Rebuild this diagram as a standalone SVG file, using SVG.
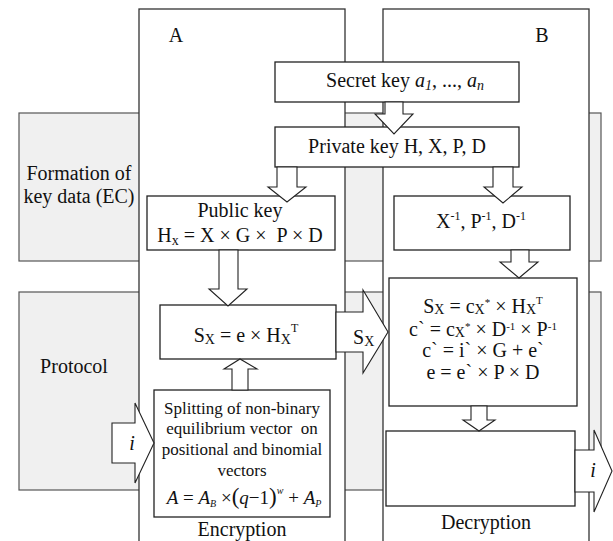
<svg xmlns="http://www.w3.org/2000/svg" width="613" height="541" viewBox="0 0 613 541">
  <style>
    text { font-family: "Liberation Serif", "Times New Roman", serif; font-size: 20px; fill: #111; white-space: pre; }
    .band { fill: #f0f0f0; stroke: #555; stroke-width: 1.2; }
    .col { fill: #fff; stroke: #333; stroke-width: 1.3; }
    .box { fill: #fff; stroke: #222; stroke-width: 1.3; }
    .arrow { fill: #fff; stroke: #222; stroke-width: 1.1; stroke-linejoin: miter; }
    .mid { text-anchor: middle; }
    .sub { font-size: 14px; }
    .sup { font-size: 12px; }
    .sup2 { font-size: 11px; }
    .small { font-size: 17px; }
    .it { font-style: italic; }
  </style>

  <!-- horizontal stages -->
  <g id="stage-keys">
    <rect class="band" x="19" y="113" width="582" height="148"/>
    <text class="mid" x="79" y="180">Formation of</text>
    <text class="mid" x="79" y="203">key data (EC)</text>
  </g>
  <g id="stage-protocol">
    <rect class="band" x="19" y="292" width="582" height="198"/>
    <text class="mid" x="74" y="373">Protocol</text>
  </g>

  <!-- participants -->
  <g id="lane-a">
    <rect class="col" x="139" y="9" width="206" height="545"/>
    <text class="mid" x="176" y="42">A</text>
    <text class="mid" x="242" y="536">Encryption</text>
  </g>
  <g id="lane-b">
    <rect class="col" x="383" y="9" width="206" height="545"/>
    <text class="mid" x="542" y="42">B</text>
    <text class="mid" x="486" y="529">Decryption</text>
  </g>

  <!-- steps -->
  <g id="secret-key">
    <rect class="box" x="275" y="62" width="244" height="40"/>
    <text class="mid" x="405" y="87">Secret key <tspan class="it">a</tspan><tspan class="sub it" dy="3">1</tspan><tspan dy="-3">, ..., </tspan><tspan class="it">a</tspan><tspan class="sub it" dy="3">n</tspan></text>
  </g>
  <g id="private-key">
    <rect class="box" x="275" y="127" width="244" height="40"/>
    <text class="mid" x="397" y="153">Private key H, X, P, D</text>
  </g>
  <g id="public-key">
    <rect class="box" x="147" y="196" width="188" height="54"/>
    <text class="mid" x="240" y="217">Public key</text>
    <text class="mid" x="240" y="242">H<tspan class="sub" dy="3">x</tspan><tspan dy="-3"> = X × G ×  P × D</tspan></text>
  </g>
  <g id="inverses">
    <rect class="box" x="394" y="196" width="176" height="54"/>
    <text class="mid" x="481" y="228">X<tspan class="sup" dy="-8">-1</tspan><tspan dy="8">, P</tspan><tspan class="sup" dy="-8">-1</tspan><tspan dy="8">, D</tspan><tspan class="sup" dy="-8">-1</tspan></text>
  </g>
  <g id="syndrome">
    <rect class="box" x="160" y="305" width="176" height="54"/>
    <text class="mid" x="246" y="342">S<tspan class="sub" dy="2">X</tspan><tspan dy="-2"> = e × H</tspan><tspan class="sub" dy="2">X</tspan><tspan class="sup" dy="-12">T</tspan></text>
  </g>
  <g id="decoding">
    <rect class="box" x="389" y="278" width="188" height="128"/>
    <text class="mid" x="483" y="313">S<tspan class="sub" dy="1">X</tspan><tspan dy="-1"> = c</tspan><tspan class="sub" dy="1">X</tspan><tspan class="sup2" dy="-8">*</tspan><tspan dy="7"> × H</tspan><tspan class="sub" dy="1">X</tspan><tspan class="sup2" dy="-10">T</tspan></text>
    <text class="mid" x="483" y="336">c` = c<tspan class="sub" dy="1">X</tspan><tspan class="sup2" dy="-7">*</tspan><tspan dy="6"> × D</tspan><tspan class="sup2" dy="-6">-1</tspan><tspan dy="6"> × P</tspan><tspan class="sup2" dy="-6">-1</tspan></text>
    <text class="mid" x="483" y="357">c` = i` × G + e`</text>
    <text class="mid" x="483" y="379">e = e` × P × D</text>
  </g>
  <g id="splitting">
    <rect class="box" x="154" y="390" width="176" height="127"/>
    <text class="mid small" x="242" y="414">Splitting of non-binary</text>
    <text class="mid small" x="242" y="434">equilibrium vector  on</text>
    <text class="mid small" x="242" y="455">positional and binomial</text>
    <text class="mid small" x="242" y="476">vectors</text>
    <text class="mid" x="244" y="504" style="font-size:19px"><tspan class="it">A</tspan> = <tspan class="it">A</tspan><tspan class="it" style="font-size:10px" dy="3">B</tspan><tspan dy="-3"> ×</tspan><tspan style="font-size:23px">(</tspan><tspan class="it">q</tspan>−1<tspan style="font-size:23px">)</tspan><tspan class="it" style="font-size:10px" dy="-10">w</tspan><tspan dy="10"> + </tspan><tspan class="it">A</tspan><tspan class="it" style="font-size:10px" dy="3">P</tspan></text>
  </g>
  <g id="recovered">
    <rect class="box" x="386" y="431" width="189" height="75"/>
  </g>

  <!-- block arrows -->
  <g id="connectors">
    <polygon class="arrow" points="385,102 403,102 403,114 413,114 394,134 375,114 385,114"/>
    <polygon class="arrow" points="277,167 297,167 297,187 306,187 287,202 268,187 277,187"/>
    <polygon class="arrow" points="493,167 513,167 513,187 522,187 503,203 484,187 493,187"/>
    <polygon class="arrow" points="219,250 238,250 238,289 247,289 228,306 209,289 219,289"/>
    <polygon class="arrow" points="232,390 248,390 248,369 257,369 240,359 224,369 232,369"/>
    <polygon class="arrow" points="511,250 529,250 529,262 538,262 519,278 500,262 511,262"/>
    <polygon class="arrow" points="471,406 487,406 487,420 495,420 479,431 463,420 471,420"/>
    <g id="transfer">
      <polygon class="arrow" points="336,312 363,312 363,290 388,332 363,373 363,352 336,352"/>
      <text x="353" y="344">S<tspan class="sub" dy="2">X</tspan></text>
    </g>
    <g id="input">
      <polygon class="arrow" points="112,423 135,423 135,403 154,443 135,483 135,463 112,463"/>
      <text class="mid it" x="132" y="450">i</text>
    </g>
    <g id="output">
      <polygon class="arrow" points="575,450 594,450 594,430 612,471 594,512 594,492 575,492"/>
      <text class="mid it" x="593" y="477">i</text>
    </g>
  </g>
</svg>
